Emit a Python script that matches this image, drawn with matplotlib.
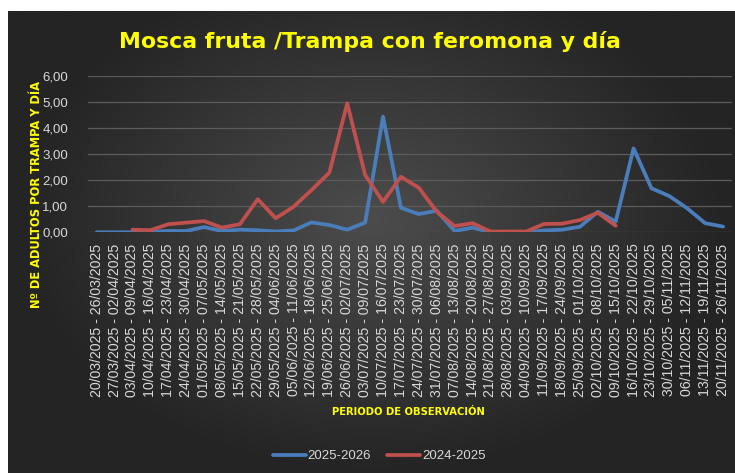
import numpy as np
import matplotlib
matplotlib.use("Agg")
import matplotlib.pyplot as plt

periods = ["20/03/2025 - 26/03/2025", "27/03/2025 - 02/04/2025", "03/04/2025 - 09/04/2025",
           "10/04/2025 - 16/04/2025", "17/04/2025 - 23/04/2025", "24/04/2025 - 30/04/2025",
           "01/05/2025 - 07/05/2025", "08/05/2025 - 14/05/2025", "15/05/2025 - 21/05/2025",
           "22/05/2025 - 28/05/2025", "29/05/2025 - 04/06/2025", "05/06/2025 - 11/06/2025",
           "12/06/2025 - 18/06/2025", "19/06/2025 - 25/06/2025", "26/06/2025 - 02/07/2025",
           "03/07/2025 - 09/07/2025", "10/07/2025 - 16/07/2025", "17/07/2025 - 23/07/2025",
           "24/07/2025 - 30/07/2025", "31/07/2025 - 06/08/2025", "07/08/2025 - 13/08/2025",
           "14/08/2025 - 20/08/2025", "21/08/2025 - 27/08/2025", "28/08/2025 - 03/09/2025",
           "04/09/2025 - 10/09/2025", "11/09/2025 - 17/09/2025", "18/09/2025 - 24/09/2025",
           "25/09/2025 - 01/10/2025", "02/10/2025 - 08/10/2025", "09/10/2025 - 15/10/2025",
           "16/10/2025 - 22/10/2025", "23/10/2025 - 29/10/2025", "30/10/2025 - 05/11/2025",
           "06/11/2025 - 12/11/2025", "13/11/2025 - 19/11/2025", "20/11/2025 - 26/11/2025"]

s2025_2026 = [0.00, 0.00, 0.00, 0.02, 0.05, 0.05, 0.20, 0.05, 0.10, 0.08, 0.03, 0.07,
              0.38, 0.28, 0.10, 0.37, 4.44, 0.94, 0.70, 0.83, 0.05, 0.18, 0.00, 0.00,
              0.00, 0.07, 0.10, 0.21, 0.79, 0.41, 3.22, 1.69, 1.39, 0.92, 0.35, 0.22]

s2024_2025 = [None, None, 0.10, 0.08, 0.31, 0.37, 0.43, 0.18, 0.31, 1.27, 0.54, 0.98,
              1.62, 2.29, 4.95, 2.20, 1.17, 2.13, 1.71, 0.79, 0.24, 0.35, 0.03, 0.03,
              0.03, 0.32, 0.33, 0.47, 0.75, 0.25, None, None, None, None, None, None]

series_names = ["2025-2026", "2024-2025"]
title = "Mosca fruta /Trampa con feromona y día"
ylabel = "Nº DE ADULTOS POR TRAMPA Y DÍA"
xlabel = "PERIODO DE OBSERVACIÓN"

W, H = 735, 473
fig = plt.figure(figsize=(W / 100, H / 100), dpi=100)
fig.patch.set_facecolor("white")

# background with radial gradient
bg = fig.add_axes([8 / W, 0, 1 - 8 / W, 1 - 11 / H], zorder=-10)
yy, xx = np.mgrid[0:1:300j, 0:1:400j]
r = np.sqrt(((xx - 0.5) / 0.75) ** 2 + ((yy - 0.45) / 0.85) ** 2)
r = np.clip(r / 0.65, 0, 1)
c0 = np.array([0x4c, 0x4c, 0x4c]) / 255
c1 = np.array([0x24, 0x24, 0x24]) / 255
img = c0[None, None, :] * (1 - r[..., None]) + c1[None, None, :] * r[..., None]
bg.imshow(img, aspect="auto", extent=[0, 1, 0, 1], interpolation="bicubic")
bg.axis("off")

ax_left, ax_right = 87.75, 732.0
ax_top, ax_bot = 76.0, 232.3
ax = fig.add_axes([ax_left / W, 1 - ax_bot / H, (ax_right - ax_left) / W, (ax_bot - ax_top) / H])
ax.set_facecolor("none")

x = np.arange(len(periods))
y1 = np.array(s2025_2026, dtype=float)
y2 = np.array([np.nan if v is None else v for v in s2024_2025], dtype=float)

ax.plot(x, y1, color="#4a7ebb", lw=2.7, solid_capstyle="round", solid_joinstyle="round",
        label=series_names[0], zorder=3)
ax.plot(x, y2, color="#c0504d", lw=2.7, solid_capstyle="round", solid_joinstyle="round",
        label=series_names[1], zorder=3)

ax.set_xlim(-0.5, len(periods) - 0.5)
ax.set_ylim(0, 6)
ax.set_yticks(np.arange(0, 7, 1))
ax.set_yticklabels([f"{v:.2f}".replace(".", ",") for v in np.arange(0, 7, 1)])
ax.set_xticks(x)
ax.set_xticklabels(periods, rotation=90, fontsize=10.2, color="#d9d9d9",
                   family="Liberation Sans")
for lab in ax.get_yticklabels():
    lab.set_color("#d9d9d9")
    lab.set_fontsize(9.5)
    lab.set_family("Liberation Sans")
ax.tick_params(axis="x", length=0, pad=8)
ax.tick_params(axis="y", length=0, pad=14)
ax.grid(axis="y", color="#5c5c5c", lw=0.9)
ax.set_axisbelow(True)
for sp in ax.spines.values():
    sp.set_visible(False)

fig.text(370 / W, 1 - 42 / H, title, ha="center", va="center", color="#ffff00",
         fontsize=15.8, fontweight="bold", family="DejaVu Sans")
fig.text(37 / W, 1 - 195 / H, ylabel, ha="center", va="center", rotation=90,
         color="#ffff00", fontsize=9.2, fontweight="bold", stretch="condensed",
         family="DejaVu Sans")
fig.text(408 / W, 1 - 412 / H, xlabel, ha="center", va="center", color="#ffff00",
         fontsize=8, fontweight="bold", stretch="condensed", family="DejaVu Sans")

leg = fig.legend(loc="center", bbox_to_anchor=(379 / W, 1 - 456 / H), ncol=2, frameon=False,
                 handlelength=2.5, handletextpad=0.15, columnspacing=1.2,
                 prop={"family": "Liberation Sans", "size": 9.5})
for t in leg.get_texts():
    t.set_color("#d9d9d9")

fig.savefig("out.png", dpi=100, facecolor=fig.get_facecolor())
